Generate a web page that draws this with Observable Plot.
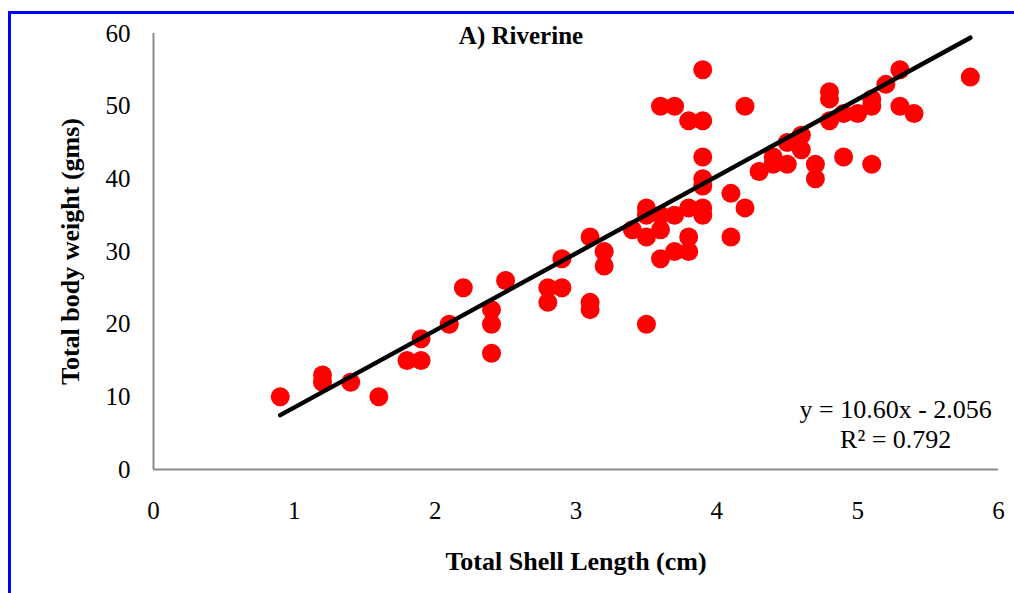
<!DOCTYPE html>
<html>
<head>
<meta charset="utf-8">
<script src="https://cdn.jsdelivr.net/npm/d3@7"></script>
<script src="https://cdn.jsdelivr.net/npm/@observablehq/plot@0.6"></script>
<style>
  html, body { margin: 0; padding: 0; background: #fff; }
  #wrap { position: relative; width: 1014px; height: 593px; overflow: hidden; }
  #frame { position: absolute; left: 8px; top: 11px; width: 1010px; height: 590px;
           border-left: 3px solid #0000ff; border-top: 3px solid #0000ff; pointer-events: none; }
  svg { font-family: "Liberation Serif", "Times New Roman", serif; }
</style>
</head>
<body>
<div id="wrap"><div id="frame"></div></div>
<script>
const shellLength = [
  0.9, 1.2, 1.2, 1.4, 1.6, 1.8, 1.9, 1.9, 2.1, 2.2,
  2.4, 2.4, 2.4, 2.5, 2.8, 2.8, 2.9, 2.9, 3.1, 3.1,
  3.1, 3.2, 3.2, 3.4, 3.5, 3.5, 3.5, 3.5, 3.6, 3.6,
  3.6, 3.6, 3.7, 3.7, 3.7, 3.8, 3.8, 3.8, 3.8, 3.9,
  3.9, 3.9, 3.9, 3.9, 3.9, 3.9, 4.1, 4.1, 4.2, 4.2,
  4.3, 4.4, 4.4, 4.5, 4.5, 4.6, 4.6, 4.7, 4.7, 4.8,
  4.8, 4.8, 4.9, 4.9, 5.0, 5.1, 5.1, 5.1, 5.2, 5.3,
  5.3, 5.4, 5.8
];
const bodyWeight = [
  10, 13, 12, 12, 10, 15, 15, 18, 20, 25,
  22, 20, 16, 26, 25, 23, 29, 25, 32, 23,
  22, 30, 28, 33, 36, 35, 32, 20, 50, 35,
  33, 29, 50, 35, 30, 48, 36, 32, 30, 55,
  48, 43, 40, 39, 36, 35, 38, 32, 50, 36,
  41, 43, 42, 45, 42, 46, 44, 42, 40, 52,
  51, 48, 49, 43, 49, 51, 50, 42, 53, 55,
  50, 49, 54
];
const xTicks = [0, 1, 2, 3, 4, 5, 6];
const yTicks = [0, 10, 20, 30, 40, 50, 60];
const slope = 10.60, intercept = -2.056;
const fitRange = [0.9, 5.8];
const titleText = "A) Riverine";
const eqText = "y = 10.60x - 2.056\nR² = 0.792";

const points = shellLength.map((x, i) => ({x, y: bodyWeight[i]}));
const fit = fitRange.map(x => ({x, y: slope * x + intercept}));

const chart = Plot.plot({
  width: 1014,
  height: 593,
  marginLeft: 153,
  marginRight: 16,
  marginTop: 33,
  marginBottom: 124,
  style: {fontFamily: '"Liberation Serif", "Times New Roman", serif', background: "transparent"},
  x: {domain: [0, 6], label: null},
  y: {domain: [0, 60], label: null},
  marks: [
    Plot.axisX({ticks: xTicks, tickSize: 0, tickPadding: 32, fontSize: 25, fill: "#000", tickFormat: d => String(d)}),
    Plot.axisY({ticks: yTicks, tickSize: 0, tickPadding: 23, fontSize: 25, fill: "#000", tickFormat: d => String(d)}),
    Plot.ruleX([0], {stroke: "#8c8c8c", strokeWidth: 2}),
    Plot.ruleY([0], {stroke: "#8c8c8c", strokeWidth: 2}),
    Plot.dot(points, {x: "x", y: "y", r: 9.5, fill: "#ff0000", stroke: "none"}),
    Plot.line(fit, {x: "x", y: "y", stroke: "#000", strokeWidth: 4.5, strokeLinecap: "round"}),
    Plot.text([titleText], {frameAnchor: "top", dx: -55, dy: -7, fontSize: 25, fontWeight: "bold", fill: "#000"}),
    Plot.text([eqText], {x: 5.27, y: 6.3, fontSize: 26, lineHeight: 1.12, fill: "#000", textAnchor: "middle"}),
    Plot.text(["Total Shell Length (cm)"], {frameAnchor: "bottom", dy: 100, dx: 0, fontSize: 26, fontWeight: "bold", fill: "#000"}),
    Plot.text(["Total body weight (gms)"], {frameAnchor: "left", dx: -83, rotate: -90, textAnchor: "middle", fontSize: 26, fontWeight: "bold", fill: "#000"})
  ]
});
document.getElementById("wrap").insertBefore(chart, document.getElementById("frame"));
</script>
</body>
</html>
